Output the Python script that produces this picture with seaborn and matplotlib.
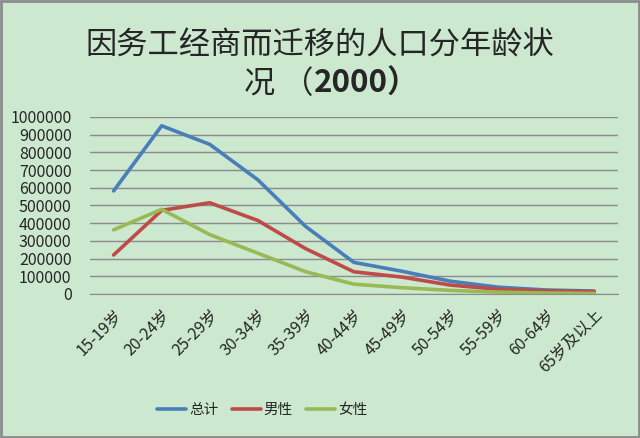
import pandas as pd
import matplotlib
matplotlib.use('Agg')
import matplotlib.pyplot as plt
import seaborn as sns

# Age groups and values
ages = ['15-19岁', '20-24岁', '25-29岁', '30-34岁', '35-39岁', '40-44岁',
        '45-49岁', '50-54岁', '55-59岁', '60-64岁', '65岁及以上']
total = [582000, 950000, 845000, 645000, 380000, 178000, 128000, 72000, 38000, 22000, 16000]
male = [220000, 472000, 515000, 415000, 255000, 125000, 95000, 50000, 26000, 17000, 13000]
female = [362000, 478000, 335000, 230000, 125000, 55000, 35000, 20000, 10000, 5000, 3000]
series_names = ['总计', '男性', '女性']

df = pd.DataFrame({'age': ages, '总计': total, '男性': male, '女性': female})
long_df = df.melt(id_vars='age', var_name='series', value_name='people')
long_df['pos'] = long_df['age'].map({a: i for i, a in enumerate(ages)})

bg = '#CCE8CF'
sns.set_style('white')
plt.rcParams['font.family'] = ['Noto Sans CJK SC', 'DejaVu Sans']

fig = plt.figure(figsize=(6.4, 4.38), dpi=100, facecolor=bg)
ax = fig.add_axes([0.14, 0.329, 0.826, 0.404])
ax.set_facecolor(bg)

palette = {'总计': '#4A7EBB', '男性': '#BE4B48', '女性': '#98B954'}
sns.lineplot(data=long_df, x='pos', y='people', hue='series', hue_order=series_names,
             palette=palette, linewidth=2.6, ax=ax, legend=False)

ax.set_xlim(-0.5, len(ages) - 0.5)
ax.set_ylim(0, 1000000)
ax.set_yticks(range(0, 1000001, 100000))
ax.set_yticklabels([str(v) for v in range(0, 1000001, 100000)], fontsize=11.5)
ax.yaxis.grid(True, color='#8C8C8C', linewidth=1)
ax.tick_params(axis='y', length=4, color='#8C8C8C', pad=9)

ax.set_xticks(range(len(ages)))
ax.set_xticklabels(ages, rotation=45, ha='right', rotation_mode='anchor', fontsize=11.5)
ax.set_xticks([i - 0.5 for i in range(len(ages) + 1)], minor=True)
ax.tick_params(axis='x', which='major', length=0, pad=9)
ax.tick_params(axis='x', which='minor', length=5, color='#8C8C8C', direction='out')

for side in ['top', 'right', 'left']:
    ax.spines[side].set_visible(False)
ax.spines['bottom'].set_color('#8C8C8C')
ax.set_xlabel('')
ax.set_ylabel('')

fig.text(0.5, 0.897, '因务工经商而迁移的人口分年龄状', ha='center', va='center', fontsize=22.5)
fig.text(0.49, 0.808, '况 （', ha='right', va='center', fontsize=22.5)
fig.text(0.49, 0.808, '2000）', ha='left', va='center', fontsize=22.5, fontweight='bold')

# legend at the bottom
handles = [plt.Line2D([0], [0], color=palette[n], linewidth=2.6) for n in series_names]
fig.legend(handles, series_names, loc='center', bbox_to_anchor=(0.41, 0.064), ncol=3,
           frameon=False, fontsize=10.5, handlelength=2.0, columnspacing=0.9, handletextpad=0.2)

# outer border
fig.patches.append(plt.Rectangle((0.002, 0.003), 0.996, 0.994, transform=fig.transFigure,
                                 fill=False, edgecolor='#8C8C8C', linewidth=2))

fig.savefig('out.png', dpi=100, facecolor=bg)
